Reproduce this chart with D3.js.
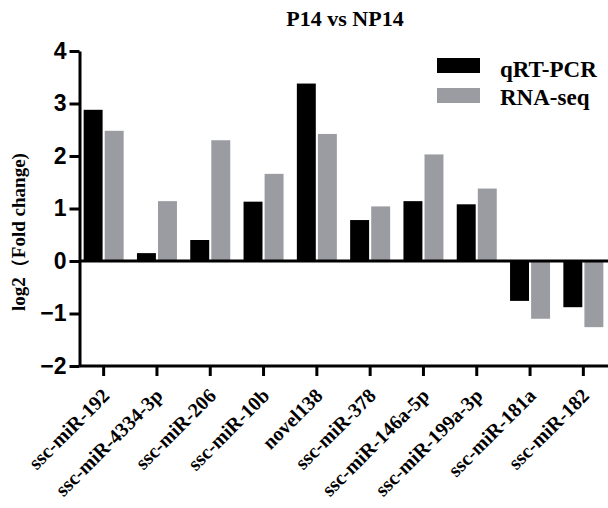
<!DOCTYPE html>
<html>
<head>
<meta charset="utf-8">
<script src="https://cdn.jsdelivr.net/npm/d3@7"></script>
<style>
  body { margin: 0; background: #fff; }
  svg { display: block; }
</style>
</head>
<body>
<div class="bar-chart-container"></div>
<script>
// Data
const categories = ['ssc-miR-192', 'ssc-miR-4334-3p', 'ssc-miR-206', 'ssc-miR-10b', 'novel138',
  'ssc-miR-378', 'ssc-miR-146a-5p', 'ssc-miR-199a-3p', 'ssc-miR-181a', 'ssc-miR-182'];
const seriesNames = ['qRT-PCR', 'RNA-seq'];
const qrtpcr = [2.88, 0.15, 0.40, 1.13, 3.38, 0.78, 1.14, 1.08, -0.76, -0.88];
const rnaseq = [2.48, 1.14, 2.30, 1.66, 2.42, 1.04, 2.03, 1.38, -1.10, -1.26];
const yTicks = [-2, -1, 0, 1, 2, 3, 4];

const colors = { 'qRT-PCR': '#000000', 'RNA-seq': '#9b9ca2' };

const svg_width = 608;
const svg_height = 508;
const axisX = 79.5;

const svg = d3.select('.bar-chart-container').append('svg')
  .attr('width', svg_width).attr('height', svg_height);

const xScale = d3.scaleBand().domain(categories).range([77, 610]);
const yScale = d3.scaleLinear().domain([-2, 4]).range([366, 51]);

const rows = categories.map((c, i) => ({ name: c, values: [
  { series: 'qRT-PCR', value: qrtpcr[i] },
  { series: 'RNA-seq', value: rnaseq[i] }
]}));

const xSub = d3.scaleBand().domain(seriesNames).range([-20, 20]).paddingInner(0.1);

// bars
const groups = svg.selectAll('.grp').data(rows).enter().append('g')
  .attr('class', 'grp')
  .attr('transform', d => `translate(${xScale(d.name) + xScale.bandwidth() / 2},0)`);
groups.selectAll('rect').data(d => d.values).enter().append('rect')
  .attr('x', d => xSub(d.series))
  .attr('width', xSub.bandwidth())
  .attr('y', d => yScale(Math.max(0, d.value)))
  .attr('height', d => Math.abs(yScale(d.value) - yScale(0)))
  .style('fill', d => colors[d.series]);

// zero line
svg.append('line')
  .attr('x1', axisX).attr('x2', 608)
  .attr('y1', yScale(0)).attr('y2', yScale(0))
  .style('stroke', '#000').style('stroke-width', 3);

// x axis
const xAxis = d3.axisBottom(xScale).tickSizeInner(10).tickSizeOuter(0);
const xAxisDraw = svg.append('g')
  .attr('transform', `translate(0,${yScale(-2)})`)
  .call(xAxis);
xAxisDraw.select('.domain').attr('d', `M${axisX},0H608`).style('stroke-width', 3);
xAxisDraw.selectAll('.tick line').style('stroke-width', 3);
xAxisDraw.selectAll('text')
  .attr('x', 0).attr('y', 0).attr('dy', 0)
  .attr('transform', 'translate(7,31) rotate(-45)')
  .style('text-anchor', 'end')
  .style('font-family', '"Liberation Serif", "Times New Roman", serif')
  .style('font-weight', 'bold')
  .style('font-size', '20px')
  .style('fill', '#000');

// y axis
const yAxis = d3.axisLeft(yScale).tickValues(yTicks).tickFormat(d3.format('d'))
  .tickSizeInner(10).tickSizeOuter(0).tickPadding(3);
const yAxisDraw = svg.append('g')
  .attr('transform', `translate(${axisX},0)`)
  .call(yAxis);
yAxisDraw.select('.domain').style('stroke-width', 3);
yAxisDraw.selectAll('.tick line').style('stroke-width', 3);
yAxisDraw.selectAll('text')
  .style('font-family', '"Liberation Sans", Arial, sans-serif')
  .style('font-weight', 'bold')
  .style('font-size', '23px')
  .style('fill', '#000');

// y label
svg.append('text')
  .attr('transform', 'translate(25,232) rotate(-90)')
  .style('text-anchor', 'middle')
  .style('font-family', '"Liberation Serif", "Times New Roman", serif')
  .style('font-weight', 'bold')
  .style('font-size', '19px')
  .text('log2（Fold change)');

// title
svg.append('text')
  .attr('x', 345).attr('y', 26)
  .style('text-anchor', 'middle')
  .style('font-family', '"Liberation Serif", "Times New Roman", serif')
  .style('font-weight', 'bold')
  .style('font-size', '22px')
  .text('P14 vs NP14');

// legend
const legend = svg.selectAll('.legend').data(seriesNames).enter().append('g')
  .attr('class', 'legend')
  .attr('transform', (d, i) => `translate(437,${58 + i * 30})`);
legend.append('rect')
  .attr('width', 43).attr('height', 15)
  .style('fill', d => colors[d]);
legend.append('text')
  .attr('x', 63).attr('y', (d, i) => 19 - i * 2)
  .style('font-family', '"Liberation Serif", "Times New Roman", serif')
  .style('font-weight', 'bold')
  .style('font-size', '23px')
  .text(d => d);
</script>
</body>
</html>
